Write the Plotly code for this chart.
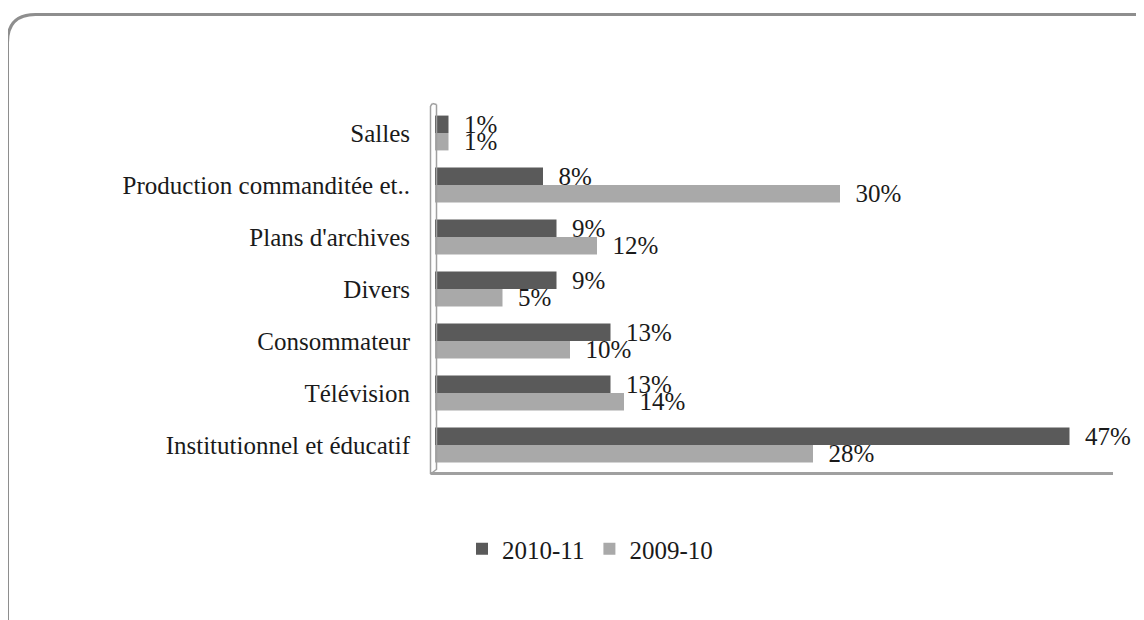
import plotly.graph_objects as go

categories = ["Salles", "Production commanditée et..", "Plans d'archives", "Divers",
              "Consommateur", "Télévision", "Institutionnel et éducatif"]
series_names = ["2010-11", "2009-10"]
values_2010_11 = [1, 8, 9, 9, 13, 13, 47]
values_2009_10 = [1, 30, 12, 5, 10, 14, 28]
colors = ["#5a5a5a", "#a9a9a9"]

W, H = 1144, 620
OFF = 8  # page body margin offset
L, R, T = 435 - OFF, 34 + OFF, 107 - OFF
PH = 364
B = H - T - PH
PW = W - L - R
FONT = "Liberation Serif"
FS = 25


def px(x):
    return (x - OFF - L) / PW


def py(y):
    return (T + PH - (y - OFF)) / PH


fig = go.Figure()
for name, vals, col in [(series_names[0], values_2010_11, colors[0]),
                        (series_names[1], values_2009_10, colors[1])]:
    fig.add_trace(go.Bar(
        y=categories, x=vals, name=name, orientation="h",
        marker=dict(color=col, line=dict(color=col, width=0)),
        text=[f"{v}%" for v in vals], texttemplate="  %{text}",
        textposition="outside", constraintext="none", cliponaxis=False,
        textfont=dict(family=FONT, size=FS, color="#1a1a1a"),
    ))

shapes = []


def rounded_rect(x0, y0, x1, y1, r):
    def P(x, y):
        return f"{px(x):.5f},{py(y):.5f}"
    return (f"M {P(x0 + r, y0)} L {P(x1 - r, y0)} Q {P(x1, y0)} {P(x1, y0 + r)} "
            f"L {P(x1, y1 - r)} Q {P(x1, y1)} {P(x1 - r, y1)} L {P(x0 + r, y1)} "
            f"Q {P(x0, y1)} {P(x0, y1 - r)} L {P(x0, y0 + r)} Q {P(x0, y0)} {P(x0 + r, y0)} Z")


shapes.append(dict(type="path", xref="paper", yref="paper",
                   path=rounded_rect(7.5, 14.5, 1172, 648, 28),
                   line=dict(color="#8e8e8e", width=3), layer="below"))


def seg(x0, y0, x1, y1, color="#a0a0a0", width=1.5):
    shapes.append(dict(type="line", xref="paper", yref="paper",
                       x0=px(x0), y0=py(y0), x1=px(x1), y1=py(y1),
                       line=dict(color=color, width=width), layer="above"))


# 3D wall and floor
seg(430.5, 106, 430.5, 474)
seg(430.5, 106, 432.5, 103.5)
seg(432.5, 103.5, 436.5, 104.5)
seg(436.5, 104.5, 436.5, 469)
seg(430.5, 474, 437, 469)
seg(430.5, 473.5, 1113, 473.5, width=3)

fig.update_layout(
    width=W, height=H,
    margin=dict(l=L, r=R, t=T, b=B),
    paper_bgcolor="white", plot_bgcolor="white",
    barmode="group", bargap=0.33, bargroupgap=0,
    font=dict(family=FONT, size=FS, color="#1a1a1a"),
    xaxis=dict(range=[0, 50], showgrid=False, zeroline=False, showticklabels=False,
               showline=False, fixedrange=True),
    yaxis=dict(autorange="reversed", showgrid=False, zeroline=False, showline=False,
               ticks="", ticklabelstandoff=24, tickfont=dict(family=FONT, size=FS, color="#1a1a1a")),
    legend=dict(orientation="h", x=px(590), y=py(549), xanchor="center", yanchor="middle",
                font=dict(family=FONT, size=FS, color="#1a1a1a"), bgcolor="rgba(0,0,0,0)",
                itemwidth=30, tracegroupgap=0),
    shapes=shapes,
    showlegend=True,
)

fig.write_html("out.html")
